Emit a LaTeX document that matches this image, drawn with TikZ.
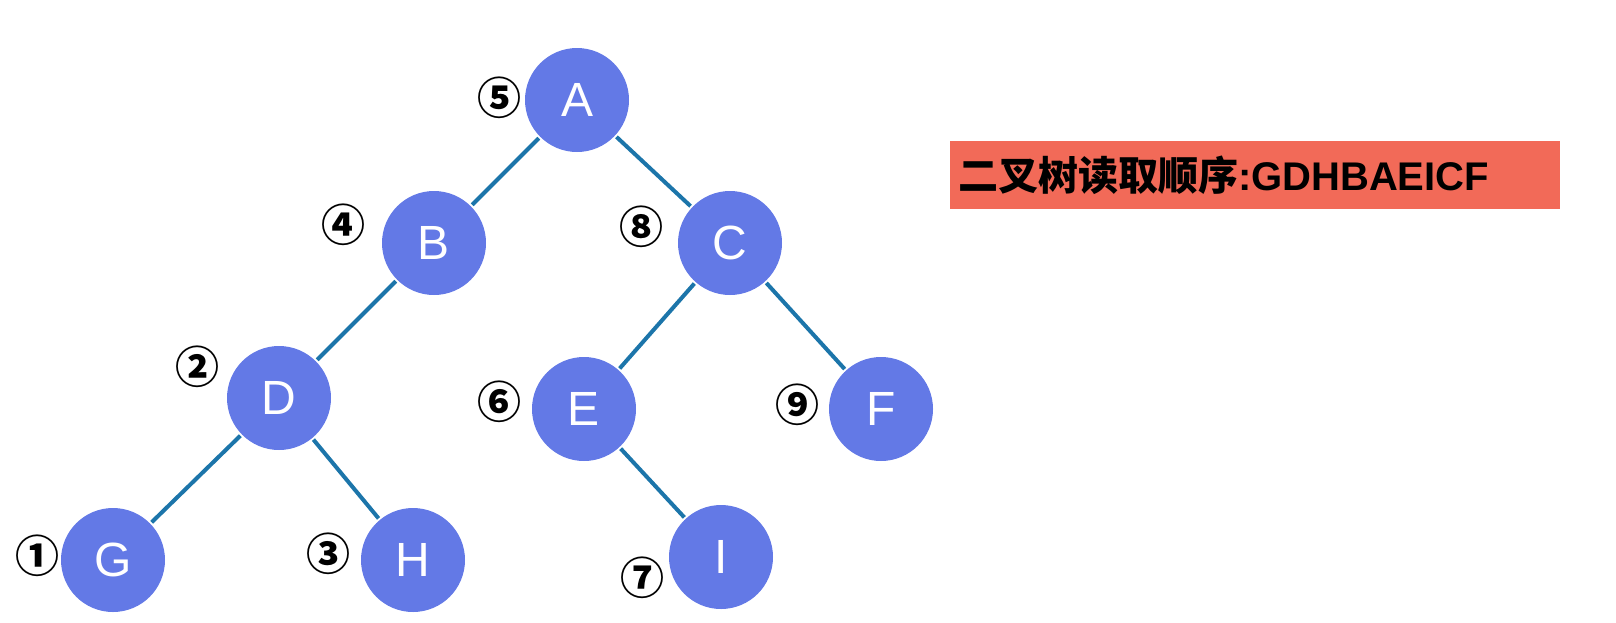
\documentclass[tikz,border=0pt]{standalone}
\usepackage{fontspec}
\setsansfont{Liberation Sans}
\newfontfamily\cjk{Noto Sans CJK SC}
\usetikzlibrary{positioning}
\definecolor{nodeblue}{RGB}{99,121,230}
\definecolor{edgeblue}{RGB}{28,117,170}
\definecolor{boxred}{RGB}{242,106,88}

\begin{document}
\begin{tikzpicture}[x=1pt, y=-1pt, line width=4pt,
  vertex/.style={circle, fill=nodeblue, minimum size=104pt, inner sep=0pt,
    text=white, font=\fontsize{48}{48}\selectfont\sffamily},
  order/.style={inner sep=0pt, font=\fontsize{44}{44}\selectfont\cjk\bfseries},
  edge/.style={draw=edgeblue}]
  \useasboundingbox (0,0) rectangle (1616,622);
  % tree
  \node[vertex] (A) at (577,100) {A};
  \node[vertex] (B) at (434,243) {B};
  \node[vertex] (C) at (730,243) {C};
  \node[vertex] (D) at (279,398) {D};
  \node[vertex] (E) at (584,409) {E};
  \node[vertex] (F) at (881,409) {F};
  \node[vertex] (G) at (113,560) {G};
  \node[vertex] (H) at (413,560) {H};
  \node[vertex] (I) at (721,557) {I};
  \foreach \a/\b in {A/B,A/C,B/D,D/G,D/H,C/E,C/F,E/I}
    \draw[edge] (\a) -- (\b);
  % visit order
  \node[order] (n1) at (37,556) {①};
  \node[order] (n2) at (197,367) {②};
  \node[order] (n3) at (328,554) {③};
  \node[order] (n4) at (343,225) {④};
  \node[order] (n5) at (499,98) {⑤};
  \node[order] (n6) at (499,402) {⑥};
  \node[order] (n7) at (642,578) {⑦};
  \node[order] (n8) at (641,227) {⑧};
  \node[order] (n9) at (797,405) {⑨};
  % result
  \node[fill=boxred, anchor=west, minimum height=68pt, text width=594pt,
    inner xsep=8pt, align=left, font=\fontsize{40}{40}\selectfont\bfseries]
    (res) at (948,175) {{\cjk 二叉树读取顺序}\sffamily:GDHBAEICF};
\end{tikzpicture}
\end{document}
